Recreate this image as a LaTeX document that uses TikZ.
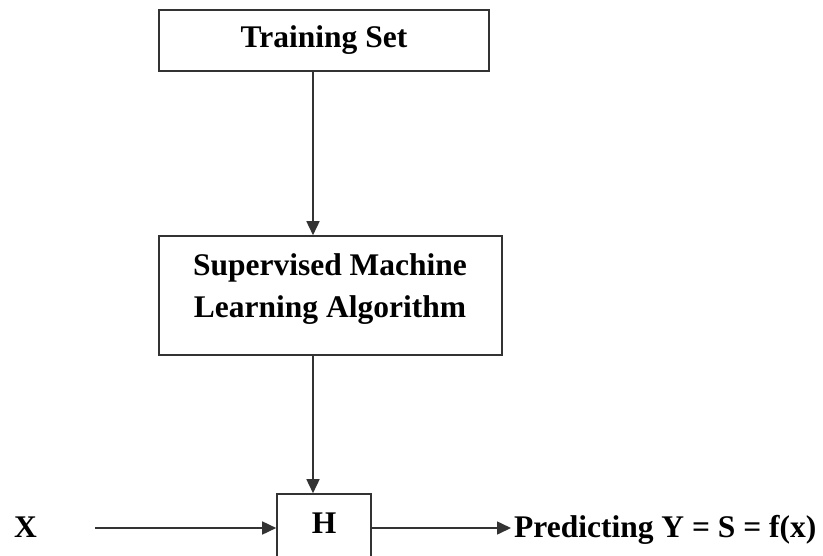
\documentclass[tikz,border=0pt]{standalone}
\usepackage{fontspec}
\setmainfont{Liberation Serif}
\usetikzlibrary{arrows.meta}
\begin{document}
\begin{tikzpicture}[x=1pt,y=-1pt,
  box/.style={draw=black!80, line width=1.6pt, inner sep=0pt},
  txt/.style={font=\fontsize{31.5}{42}\selectfont\bfseries, inner sep=0pt, align=center},
  arr/.style={draw=black!80, line width=1.6pt, -{Triangle[length=14pt,width=13pt]}}]
\useasboundingbox (0,0) rectangle (823,555);
\clip (0,0) rectangle (823,555);
\node[box, minimum width=330pt, minimum height=61pt, txt] (ts) at (324,40.5) {Training Set};
\node[box, minimum width=343pt, minimum height=119pt] (sup) at (330.5,295.5) {};
\node[txt] (suptxt) at (330,289) {Supervised Machine\\Learning Algorithm};
\node[box, minimum width=94pt, minimum height=130pt] (h) at (324,559) {};
\node[txt] (htxt) at (324,523) {H};
\node[txt] (x) at (25.5,527) {X};
\node[txt, anchor=west, font=\fontsize{31.5}{38}\selectfont\bfseries] (pred) at (514,529.5) {Predicting Y = S = f(x)};
\coordinate (spine) at (313,0);
\coordinate (xs) at (95,528);
\draw[arr] (ts.south -| spine) -- (sup.north -| spine);
\draw[arr] (sup.south -| spine) -- (h.north -| spine);
\draw[arr] (xs) -- (h.west |- xs);
\draw[arr] (h.east |- xs) -- ([xshift=-3pt]pred.west |- xs);
\end{tikzpicture}
\end{document}
